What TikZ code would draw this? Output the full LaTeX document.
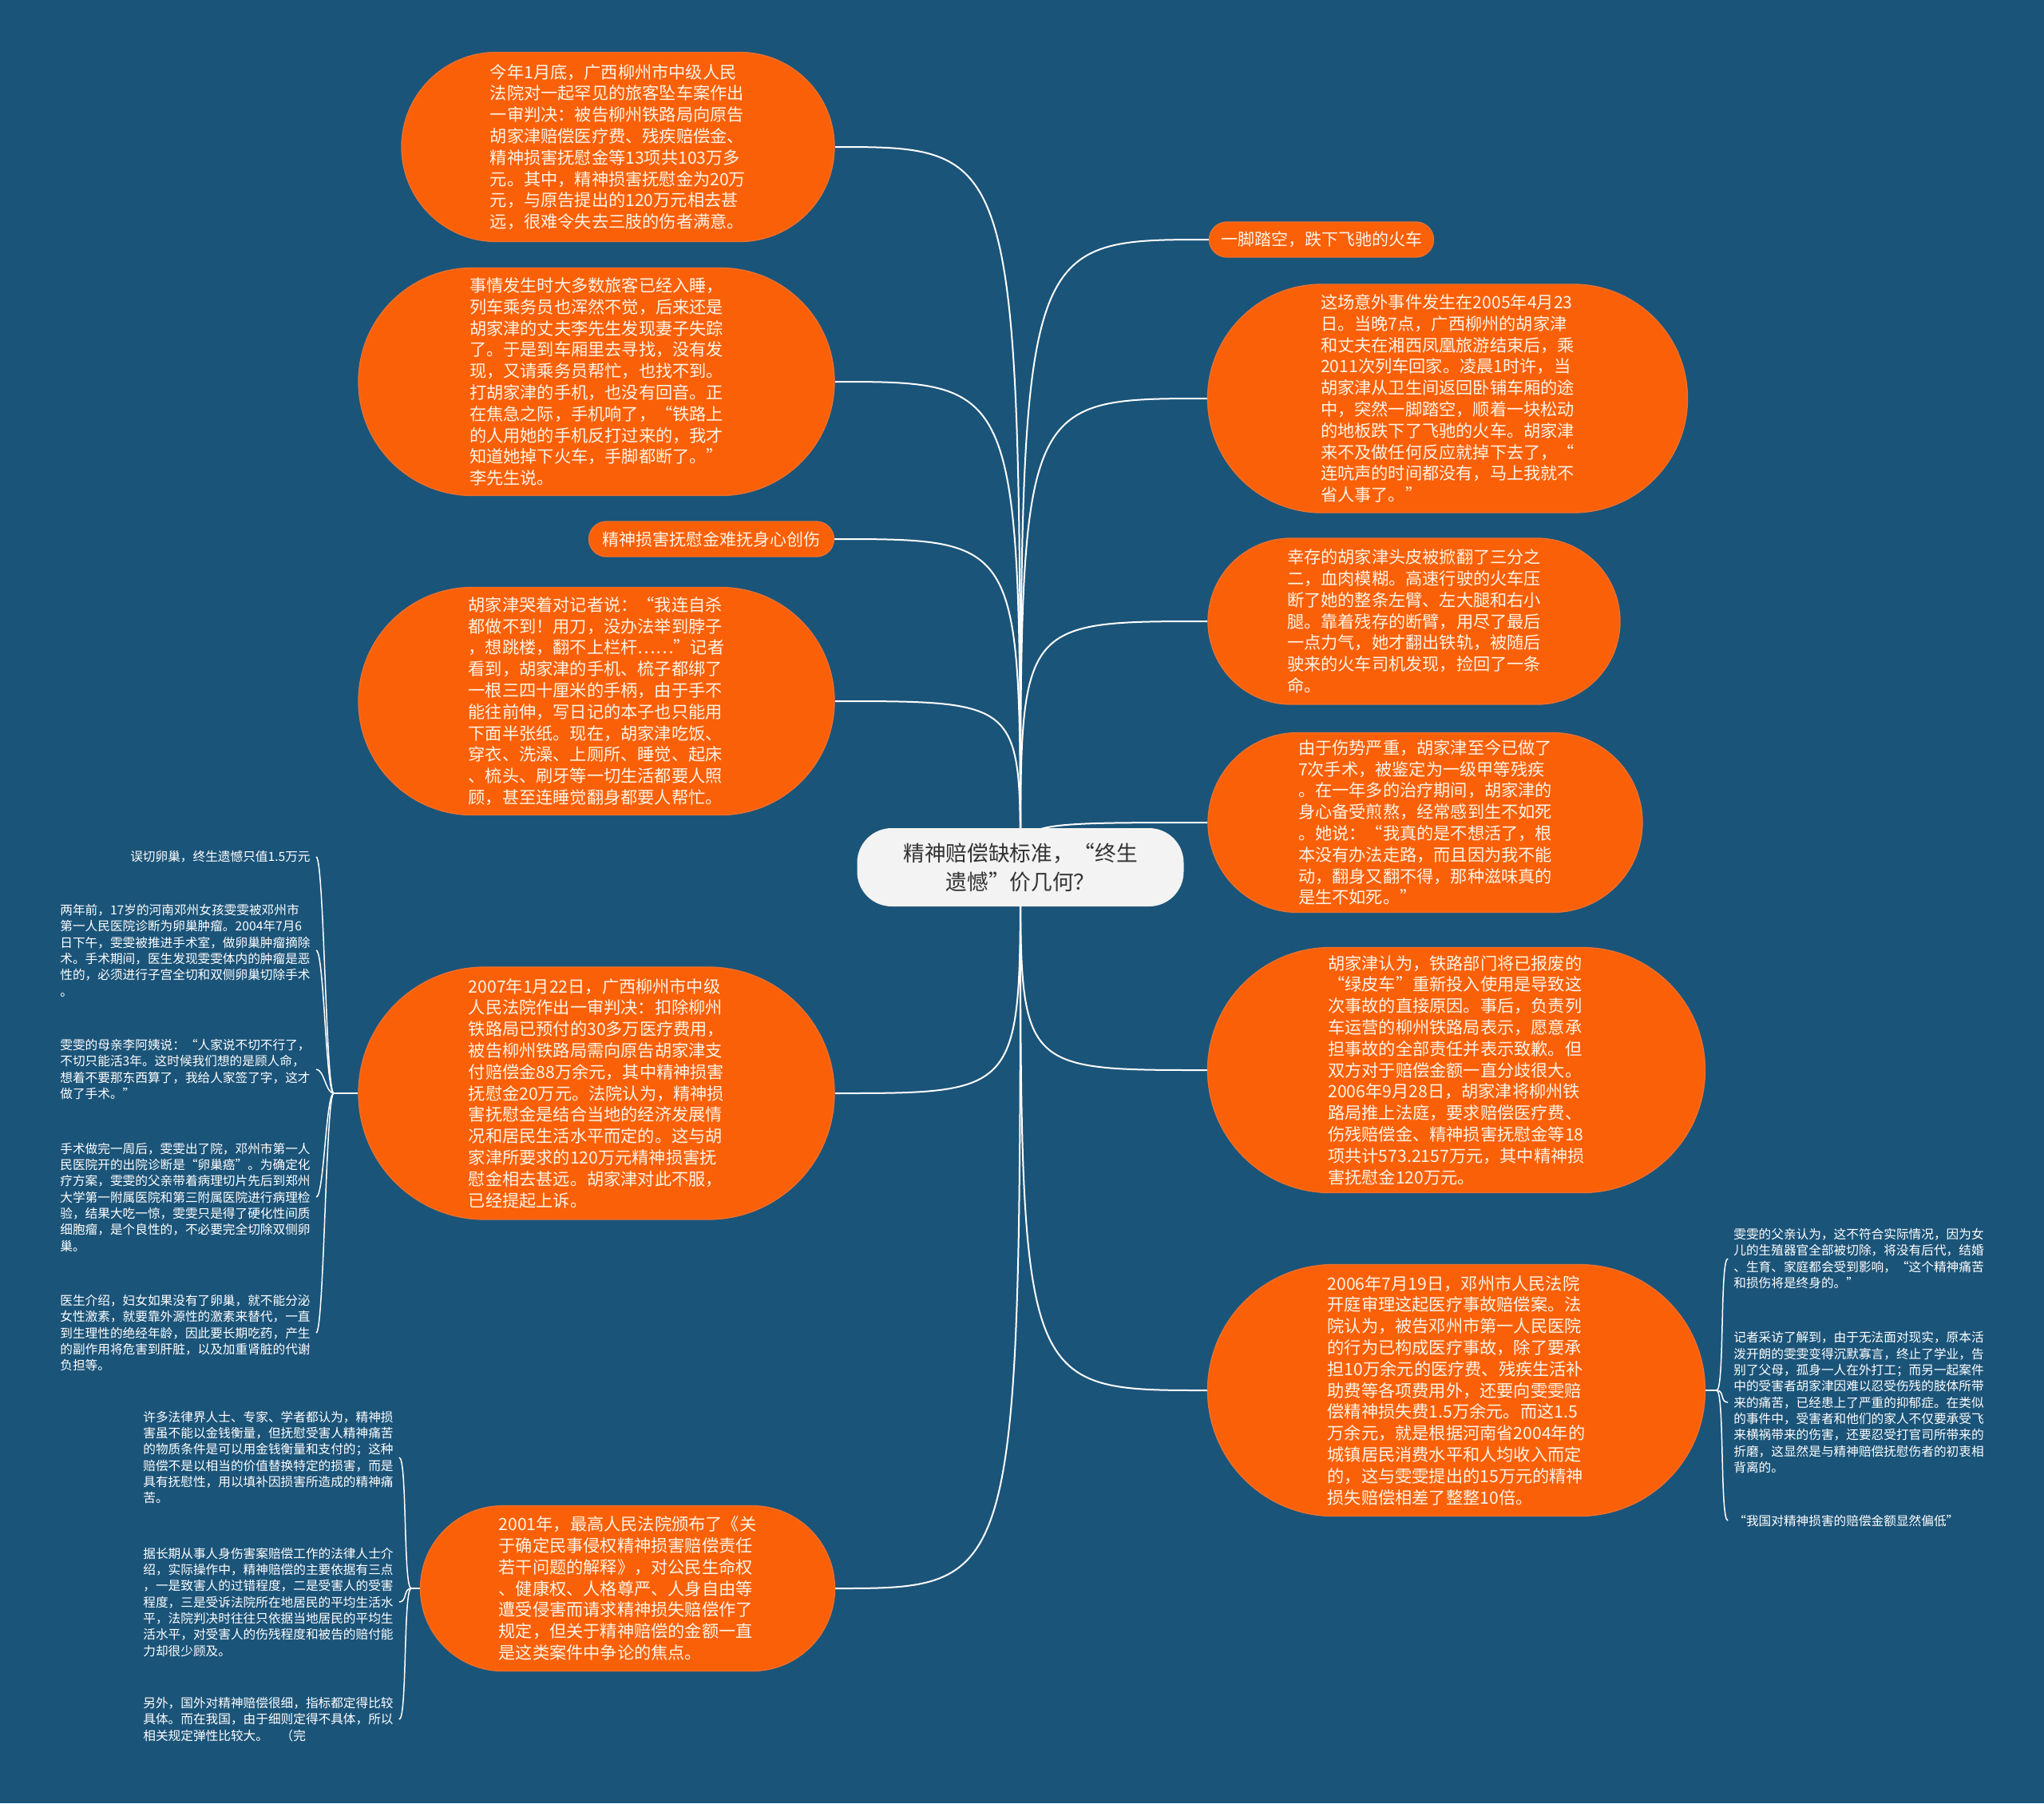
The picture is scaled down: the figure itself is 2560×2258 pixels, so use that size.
\documentclass[tikz,border=0pt]{standalone}
\usepackage{fontspec}
\setmainfont{Noto Sans CJK SC}
\usepackage{tikz}
\usetikzlibrary{shapes.misc}

\definecolor{bgblue}{RGB}{27,84,121}
\definecolor{nodeorange}{RGB}{250,96,8}
\definecolor{rimorange}{RGB}{236,112,44}
\definecolor{rootgray}{RGB}{243,243,243}
\definecolor{rootink}{RGB}{51,51,51}
\definecolor{paleink}{RGB}{255,244,232}

\pgfdeclarelayer{background}
\pgfsetlayers{background,main}

\begin{document}
\begin{tikzpicture}[x=0.3pt, y=-0.3pt,
	pill/.style={rounded rectangle, fill=nodeorange, draw=rimorange, line width=0.4pt, inner sep=0pt, text=paleink, align=left, font=\fontsize{6.36pt}{8.04pt}\selectfont},
	tag/.style={pill, font=\fontsize{6.3pt}{7pt}\selectfont},
	note/.style={text=white, inner xsep=2pt, inner ysep=0pt, align=left, font=\fontsize{4.7pt}{6.1pt}\selectfont},
	link/.style={white, line width=0.6pt},
	hook/.style={white, line width=0.45pt}]
	
	% === 背景 ===
	\useasboundingbox (0,0) rectangle (2560,2258);
	\begin{pgfonlayer}{background}
		\fill[bgblue] (0,0) rectangle (2560,2258);
	\end{pgfonlayer}
	
	% === 中心主题 ===
	\node[fill=rootgray, rounded corners=13pt, minimum width=122.7pt, minimum height=29.4pt, inner sep=0pt, align=center, text=rootink, font=\fontsize{8pt}{10.8pt}\selectfont] (c) at (1278,1086) {精神赔偿缺标准，“终生\\遗憾”价几何？};
	
	% === 左侧分支 ===
	\node[pill, minimum width=162.6pt, minimum height=71.1pt] (l1) at (774,184) {今年1月底，广西柳州市中级人民\\法院对一起罕见的旅客坠车案作出\\一审判决：被告柳州铁路局向原告\\胡家津赔偿医疗费、残疾赔偿金、\\精神损害抚慰金等13项共103万多\\元。其中，精神损害抚慰金为20万\\元，与原告提出的120万元相去甚\\远，很难令失去三肢的伤者满意。};
	\node[pill, minimum width=178.8pt, minimum height=85.5pt] (l2) at (747,478) {事情发生时大多数旅客已经入睡，\\列车乘务员也浑然不觉，后来还是\\胡家津的丈夫李先生发现妻子失踪\\了。于是到车厢里去寻找，没有发\\现，又请乘务员帮忙，也找不到。\\打胡家津的手机，也没有回音。正\\在焦急之际，手机响了，“铁路上\\的人用她的手机反打过来的，我才\\知道她掉下火车，手脚都断了。”\\李先生说。};
	\node[tag, minimum width=92.1pt, minimum height=13.2pt] (l3) at (891,675) {精神损害抚慰金难抚身心创伤};
	\node[pill, minimum width=178.8pt, minimum height=85.5pt] (l4) at (747,878) {胡家津哭着对记者说：“我连自杀\\都做不到！用刀，没办法举到脖子\\，想跳楼，翻不上栏杆……”记者\\看到，胡家津的手机、梳子都绑了\\一根三四十厘米的手柄，由于手不\\能往前伸，写日记的本子也只能用\\下面半张纸。现在，胡家津吃饭、\\穿衣、洗澡、上厕所、睡觉、起床\\、梳头、刷牙等一切生活都要人照\\顾，甚至连睡觉翻身都要人帮忙。};
	\node[pill, minimum width=178.8pt, minimum height=94.8pt] (l5) at (747,1369) {2007年1月22日，广西柳州市中级\\人民法院作出一审判决：扣除柳州\\铁路局已预付的30多万医疗费用，\\被告柳州铁路局需向原告胡家津支\\付赔偿金88万余元，其中精神损害\\抚慰金20万元。法院认为，精神损\\害抚慰金是结合当地的经济发展情\\况和居民生活水平而定的。这与胡\\家津所要求的120万元精神损害抚\\慰金相去甚远。胡家津对此不服，\\已经提起上诉。};
	\node[pill, minimum width=155.7pt, minimum height=62.1pt] (l6) at (786,1989) {2001年，最高人民法院颁布了《关\\于确定民事侵权精神损害赔偿责任\\若干问题的解释》，对公民生命权\\、健康权、人格尊严、人身自由等\\遭受侵害而请求精神损失赔偿作了\\规定，但关于精神赔偿的金额一直\\是这类案件中争论的焦点。};
	
	% === 右侧分支 ===
	\node[tag, minimum width=84.3pt, minimum height=13.2pt] (r1) at (1655,300) {一脚踏空，跌下飞驰的火车};
	\node[pill, minimum width=180.3pt, minimum height=85.8pt] (r2) at (1813,499) {这场意外事件发生在2005年4月23\\日。当晚7点，广西柳州的胡家津\\和丈夫在湘西凤凰旅游结束后，乘\\2011次列车回家。凌晨1时许，当\\胡家津从卫生间返回卧铺车厢的途\\中，突然一脚踏空，顺着一块松动\\的地板跌下了飞驰的火车。胡家津\\来不及做任何反应就掉下去了，“\\连吭声的时间都没有，马上我就不\\省人事了。”};
	\node[pill, minimum width=154.8pt, minimum height=62.4pt] (r3) at (1771,778) {幸存的胡家津头皮被掀翻了三分之\\二，血肉模糊。高速行驶的火车压\\断了她的整条左臂、左大腿和右小\\腿。靠着残存的断臂，用尽了最后\\一点力气，她才翻出铁轨，被随后\\驶来的火车司机发现，捡回了一条\\命。};
	\node[pill, minimum width=163.2pt, minimum height=67.5pt] (r4) at (1785,1030) {由于伤势严重，胡家津至今已做了\\7次手术，被鉴定为一级甲等残疾\\。在一年多的治疗期间，胡家津的\\身心备受煎熬，经常感到生不如死\\。她说：“我真的是不想活了，根\\本没有办法走路，而且因为我不能\\动，翻身又翻不得，那种滋味真的\\是生不如死。”};
	\node[pill, minimum width=186.9pt, minimum height=92.1pt] (r5) at (1824,1340) {胡家津认为，铁路部门将已报废的\\“绿皮车”重新投入使用是导致这\\次事故的直接原因。事后，负责列\\车运营的柳州铁路局表示，愿意承\\担事故的全部责任并表示致歉。但\\双方对于赔偿金额一直分歧很大。\\2006年9月28日，胡家津将柳州铁\\路局推上法庭，要求赔偿医疗费、\\伤残赔偿金、精神损害抚慰金等18\\项共计573.2157万元，其中精神损\\害抚慰金120万元。};
	\node[pill, minimum width=186.9pt, minimum height=94.5pt] (r6) at (1824,1741) {2006年7月19日，邓州市人民法院\\开庭审理这起医疗事故赔偿案。法\\院认为，被告邓州市第一人民医院\\的行为已构成医疗事故，除了要承\\担10万余元的医疗费、残疾生活补\\助费等各项费用外，还要向雯雯赔\\偿精神损失费1.5万余元。而这1.5\\万余元，就是根据河南省2004年的\\城镇居民消费水平和人均收入而定\\的，这与雯雯提出的15万元的精神\\损失赔偿相差了整整10倍。};
	
	% === 二级说明文字 ===
	\node[note, anchor=east] (s1) at (396,1073) {误切卵巢，终生遗憾只值1.5万元};
	\node[note, anchor=east] (s2) at (396,1190) {两年前，17岁的河南邓州女孩雯雯被邓州市\\第一人民医院诊断为卵巢肿瘤。2004年7月6\\日下午，雯雯被推进手术室，做卵巢肿瘤摘除\\术。手术期间，医生发现雯雯体内的肿瘤是恶\\性的，必须进行子宫全切和双侧卵巢切除手术\\。};
	\node[note, anchor=east] (s3) at (396,1339) {雯雯的母亲李阿姨说：“人家说不切不行了，\\不切只能活3年。这时候我们想的是顾人命，\\想着不要那东西算了，我给人家签了字，这才\\做了手术。”};
	\node[note, anchor=east] (s4) at (396,1499) {手术做完一周后，雯雯出了院，邓州市第一人\\民医院开的出院诊断是“卵巢癌”。为确定化\\疗方案，雯雯的父亲带着病理切片先后到郑州\\大学第一附属医院和第三附属医院进行病理检\\验，结果大吃一惊，雯雯只是得了硬化性间质\\细胞瘤，是个良性的，不必要完全切除双侧卵\\巢。};
	\node[note, anchor=east] (s5) at (396,1669) {医生介绍，妇女如果没有了卵巢，就不能分泌\\女性激素，就要靠外源性的激素来替代，一直\\到生理性的绝经年龄，因此要长期吃药，产生\\的副作用将危害到肝脏，以及加重肾脏的代谢\\负担等。};
	
	\node[note, anchor=east] (t1) at (500,1825) {许多法律界人士、专家、学者都认为，精神损\\害虽不能以金钱衡量，但抚慰受害人精神痛苦\\的物质条件是可以用金钱衡量和支付的；这种\\赔偿不是以相当的价值替换特定的损害，而是\\具有抚慰性，用以填补因损害所造成的精神痛\\苦。};
	\node[note, anchor=east] (t2) at (500,2006) {据长期从事人身伤害案赔偿工作的法律人士介\\绍，实际操作中，精神赔偿的主要依据有三点\\，一是致害人的过错程度，二是受害人的受害\\程度，三是受诉法院所在地居民的平均生活水\\平，法院判决时往往只依据当地居民的平均生\\活水平，对受害人的伤残程度和被告的赔付能\\力却很少顾及。};
	\node[note, anchor=east] (t3) at (500,2153) {另外，国外对精神赔偿很细，指标都定得比较\\具体。而在我国，由于细则定得不具体，所以\\相关规定弹性比较大。　（完};
	
	\node[note, anchor=west] (u1) at (2164,1576) {雯雯的父亲认为，这不符合实际情况，因为女\\儿的生殖器官全部被切除，将没有后代，结婚\\、生育、家庭都会受到影响，“这个精神痛苦\\和损伤将是终身的。”};
	\node[note, anchor=west] (u2) at (2164,1756) {记者采访了解到，由于无法面对现实，原本活\\泼开朗的雯雯变得沉默寡言，终止了学业，告\\别了父母，孤身一人在外打工；而另一起案件\\中的受害者胡家津因难以忍受伤残的肢体所带\\来的痛苦，已经患上了严重的抑郁症。在类似\\的事件中，受害者和他们的家人不仅要承受飞\\来横祸带来的伤害，还要忍受打官司所带来的\\折磨，这显然是与精神赔偿抚慰伤者的初衷相\\背离的。};
	\node[note, anchor=west] (u3) at (2164,1904) {“我国对精神损害的赔偿金额显然偏低”};
	
	% === 连线 ===
	\coordinate (lj) at (418,1369);
	\coordinate (bj) at (515,1989);
	\coordinate (rj) at (2150,1741);
	\begin{pgfonlayer}{background}
		% 中心到一级分支
		\draw[link] (c.center) .. controls (c.center |- l1.east) .. (l1.east);
		\draw[link] (c.center) .. controls (c.center |- l2.east) .. (l2.east);
		\draw[link] (c.center) .. controls (c.center |- l3.east) .. (l3.east);
		\draw[link] (c.center) .. controls (c.center |- l4.east) .. (l4.east);
		\draw[link] (c.center) .. controls (c.center |- l5.east) .. (l5.east);
		\draw[link] (c.center) .. controls (c.center |- l6.east) .. (l6.east);
		\draw[link] (c.center) .. controls (c.center |- r1.west) .. (r1.west);
		\draw[link] (c.center) .. controls (c.center |- r2.west) .. (r2.west);
		\draw[link] (c.center) .. controls (c.center |- r3.west) .. (r3.west);
		\draw[link] (c.center) .. controls (c.center |- r4.west) .. (r4.west);
		\draw[link] (c.center) .. controls (c.center |- r5.west) .. (r5.west);
		\draw[link] (c.center) .. controls (c.center |- r6.west) .. (r6.west);
		
		% 二级括线
		\draw[hook] (l5.west) -- (lj);
		\draw[hook] (lj) to[out=180, in=0, distance=3pt] (s1.east);
		\draw[hook] (lj) to[out=180, in=0, distance=3pt] (s2.east);
		\draw[hook] (lj) to[out=180, in=0, distance=3pt] (s3.east);
		\draw[hook] (lj) to[out=180, in=0, distance=3pt] (s4.east);
		\draw[hook] (lj) to[out=180, in=0, distance=3pt] (s5.east);
		
		\draw[hook] (l6.west) -- (bj);
		\draw[hook] (bj) to[out=180, in=0, distance=3pt] (t1.east);
		\draw[hook] (bj) to[out=180, in=0, distance=3pt] (t2.east);
		\draw[hook] (bj) to[out=180, in=0, distance=3pt] (t3.east);
		
		\draw[hook] (r6.east) -- (rj);
		\draw[hook] (rj) to[out=0, in=180, distance=3pt] (u1.west);
		\draw[hook] (rj) to[out=0, in=180, distance=3pt] (u2.west);
		\draw[hook] (rj) to[out=0, in=180, distance=3pt] (u3.west);
	\end{pgfonlayer}
\end{tikzpicture}
\end{document}
